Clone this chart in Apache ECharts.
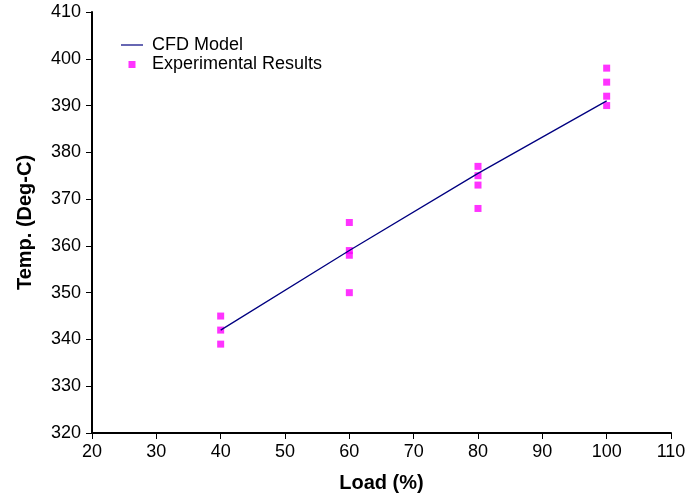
<!DOCTYPE html>
<html>
<head>
<meta charset="utf-8">
<script src="https://cdn.jsdelivr.net/npm/echarts@6/dist/echarts.min.js"></script>
<style>
  html, body { margin: 0; padding: 0; background: #fff; }
  #chart { width: 687px; height: 498px; }
</style>
</head>
<body>
<div id="chart"></div>
<script>
// CFD model line
var modelLoad = [40, 60, 80, 100]
var modelTemp = [342, 359, 375.5, 391]

// experimental points, grouped by load
var expLoad = [40, 40, 40, 60, 60, 60, 60, 80, 80, 80, 80, 100, 100, 100, 100]
var expTemp = [345, 342, 339, 365, 359, 358, 350, 377, 375, 373, 368, 398, 395, 392, 390]

var font = 'Liberation Sans, Arial, sans-serif'

var chart = echarts.init(document.getElementById('chart'))
chart.setOption({
  animation: false,
  textStyle: { fontFamily: font },
  legend: {
    left: 116,
    top: 31,
    orient: 'vertical',
    itemGap: 1,
    itemWidth: 22,
    itemHeight: 8,
    textStyle: { fontFamily: font, fontSize: 18, color: '#000', padding: [0, 0, 0, 4] },
    data: [
      { name: 'CFD Model', icon: 'path://M0,0 L0,0 M22,8 L22,8 M0,3.4 L22,3.4 L22,4.6 L0,4.6 Z' },
      { name: 'Experimental Results', icon: 'path://M0,0 L0,0 M22,8 L22,8 M7.5,1 L14.5,1 L14.5,8 L7.5,8 Z' }
    ]
  },
  grid: { left: 92, right: 16, top: 12, bottom: 65, outerBoundsMode: 'none' },
  xAxis: {
    type: 'value',
    min: 20,
    max: 110,
    interval: 10,
    name: 'Load (%)',
    nameLocation: 'middle',
    nameGap: 40,
    nameTextStyle: { fontFamily: font, fontSize: 20, fontWeight: 'bold', color: '#000' },
    axisLine: { show: true, lineStyle: { color: '#000', width: 2 } },
    axisTick: { show: true, length: 6, lineStyle: { color: '#000' } },
    axisLabel: { fontFamily: font, fontSize: 18, color: '#000', margin: 10 },
    splitLine: { show: false }
  },
  yAxis: {
    type: 'value',
    min: 320,
    max: 410,
    interval: 10,
    name: 'Temp. (Deg-C)',
    nameLocation: 'middle',
    nameGap: 57,
    nameTextStyle: { fontFamily: font, fontSize: 20, fontWeight: 'bold', color: '#000' },
    axisLine: { show: true, lineStyle: { color: '#000', width: 2 } },
    axisTick: { show: true, length: 6, lineStyle: { color: '#000' } },
    axisLabel: { fontFamily: font, fontSize: 18, color: '#000', margin: 11 },
    splitLine: { show: false }
  },
  series: [
    {
      name: 'CFD Model',
      type: 'line',
      color: '#000080',
      symbol: 'none',
      lineStyle: { color: '#000080', width: 1.3 },
      data: modelLoad.map(function (x, i) { return [x, modelTemp[i]] })
    },
    {
      name: 'Experimental Results',
      type: 'scatter',
      color: '#ff00ff',
      symbol: 'rect',
      symbolSize: 7,
      itemStyle: { color: '#ff00ff' },
      data: expLoad.map(function (x, i) { return [x, expTemp[i]] })
    }
  ]
})
</script>
</body>
</html>
